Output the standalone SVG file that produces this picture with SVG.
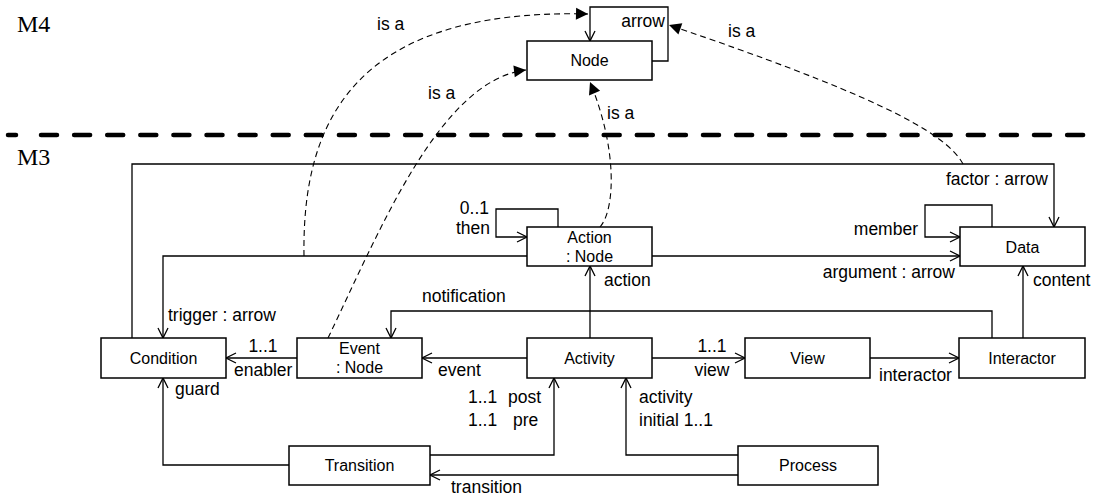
<svg xmlns="http://www.w3.org/2000/svg" width="1094" height="495" viewBox="0 0 1094 495">
  <style>
    .box { fill: #fff; stroke: #000; stroke-width: 1.5; }
    .nt { font-family: "Liberation Sans", Arial, sans-serif; font-size: 16px; fill: #000; text-anchor: middle; }
    .lb { font-family: "Liberation Sans", Arial, sans-serif; font-size: 17.5px; fill: #000; }
    .lvl { font-family: "Liberation Serif", "Times New Roman", serif; font-size: 24px; fill: #000; }
    .assoc { fill: none; stroke: #000; stroke-width: 1.3; marker-end: url(#open); }
    .isa { fill: none; stroke: #000; stroke-width: 1.1; stroke-dasharray: 6 4; marker-end: url(#solid); }
  </style>
  <defs>
    <marker id="open" markerUnits="userSpaceOnUse" markerWidth="14" markerHeight="14" viewBox="-12 -7 14 14" refX="0" refY="0" orient="auto">
      <path d="M-10,-5 L0,0 L-10,5" fill="none" stroke="#000" stroke-width="1.3"/>
    </marker>
    <marker id="solid" markerUnits="userSpaceOnUse" markerWidth="16" markerHeight="16" viewBox="-14 -8 16 16" refX="0" refY="0" orient="auto">
      <path d="M-12,-6 L0,0 L-12,6 z" fill="#000"/>
    </marker>
  </defs>

  <!-- meta-levels -->
  <g id="levels">
    <text class="lvl" x="17" y="32">M4</text>
    <text class="lvl" x="17" y="165">M3</text>
    <line x1="8" y1="135" x2="16" y2="135" stroke="#000" stroke-width="4.5" stroke-linecap="round"/>
    <line x1="41" y1="135" x2="1085" y2="135" stroke="#000" stroke-width="4.5" stroke-linecap="round" stroke-dasharray="16 17.1"/>
  </g>

  <!-- connectors -->
  <g id="connectors">
    <path class="assoc" d="M652,61 H668 V7 H590 V41"/>
    <path class="assoc" d="M132,338 V164 H1054 V227"/>
    <path class="assoc" d="M527,256 H163 V338"/>
    <path class="assoc" d="M652,256 H960"/>
    <path class="assoc" d="M992,227 V205 H925 V237 H960"/>
    <path class="assoc" d="M558,227 V209 H496 V237 H527"/>
    <path class="assoc" d="M590,338 V266"/>
    <path class="assoc" d="M1023,338 V266"/>
    <path class="assoc" d="M992,338 V311 H391 V338"/>
    <path class="assoc" d="M527,358 H422"/>
    <path class="assoc" d="M297,358 H226"/>
    <path class="assoc" d="M652,358 H745"/>
    <path class="assoc" d="M870,358 H959"/>
    <path class="assoc" d="M289,465 H163 V378"/>
    <path class="assoc" d="M430,455 H554 V378"/>
    <path class="assoc" d="M738,455 H626 V378"/>
    <path class="assoc" d="M738,475 H430"/>

    <path class="isa" d="M304,256 C302,128 348,8 588,14"/>
    <path class="isa" d="M328,338 C380,230 440,80 526,70"/>
    <path class="isa" d="M600,227 C615,210 618,150 590,82"/>
    <path class="isa" d="M963,164 C945,130 860,90 669,25"/>

    <text class="lb" x="665" y="27" text-anchor="end">arrow</text>
    <text class="lb" x="377" y="30">is a</text>
    <text class="lb" x="428" y="99">is a</text>
    <text class="lb" x="607" y="119">is a</text>
    <text class="lb" x="728" y="37">is a</text>
    <text class="lb" x="1048" y="185" text-anchor="end">factor : arrow</text>
    <text class="lb" x="918" y="235" text-anchor="end">member</text>
    <text class="lb" x="955" y="278" text-anchor="end">argument : arrow</text>
    <text class="lb" x="1033" y="286">content</text>
    <text class="lb" x="489" y="214" text-anchor="end">0..1</text>
    <text class="lb" x="490" y="234" text-anchor="end">then</text>
    <text class="lb" x="604" y="286">action</text>
    <text class="lb" x="168" y="321">trigger : arrow</text>
    <text class="lb" x="422" y="302">notification</text>
    <text class="lb" x="263" y="352" text-anchor="middle">1..1</text>
    <text class="lb" x="234" y="376">enabler</text>
    <text class="lb" x="438" y="376">event</text>
    <text class="lb" x="712" y="352" text-anchor="middle">1..1</text>
    <text class="lb" x="712" y="376" text-anchor="middle">view</text>
    <text class="lb" x="879" y="381">interactor</text>
    <text class="lb" x="175" y="395">guard</text>
    <text class="lb" x="468" y="403">1..1</text>
    <text class="lb" x="508" y="403">post</text>
    <text class="lb" x="468" y="426">1..1</text>
    <text class="lb" x="513" y="426">pre</text>
    <text class="lb" x="639" y="403">activity</text>
    <text class="lb" x="639" y="426">initial 1..1</text>
    <text class="lb" x="451" y="493">transition</text>
  </g>

  <!-- nodes -->
  <g id="node-node">
    <rect class="box" x="527" y="41" width="125" height="39"/>
    <text class="nt" x="589.5" y="66">Node</text>
  </g>
  <g id="node-action">
    <rect class="box" x="527" y="227" width="125" height="39"/>
    <text class="nt" x="589.5" y="243">Action</text>
    <text class="nt" x="589.5" y="262">: Node</text>
  </g>
  <g id="node-data">
    <rect class="box" x="960" y="227" width="125" height="39"/>
    <text class="nt" x="1022.5" y="253">Data</text>
  </g>
  <g id="node-condition">
    <rect class="box" x="101" y="338" width="125" height="40"/>
    <text class="nt" x="163.5" y="364">Condition</text>
  </g>
  <g id="node-event">
    <rect class="box" x="297" y="338" width="125" height="40"/>
    <text class="nt" x="359.5" y="354">Event</text>
    <text class="nt" x="359.5" y="373">: Node</text>
  </g>
  <g id="node-activity">
    <rect class="box" x="527" y="338" width="125" height="40"/>
    <text class="nt" x="589.5" y="364">Activity</text>
  </g>
  <g id="node-view">
    <rect class="box" x="745" y="338" width="125" height="40"/>
    <text class="nt" x="807.5" y="364">View</text>
  </g>
  <g id="node-interactor">
    <rect class="box" x="959" y="338" width="126" height="40"/>
    <text class="nt" x="1022" y="364">Interactor</text>
  </g>
  <g id="node-transition">
    <rect class="box" x="289" y="446" width="141" height="39"/>
    <text class="nt" x="359.5" y="471">Transition</text>
  </g>
  <g id="node-process">
    <rect class="box" x="738" y="446" width="140" height="39"/>
    <text class="nt" x="808" y="471">Process</text>
  </g>
</svg>
